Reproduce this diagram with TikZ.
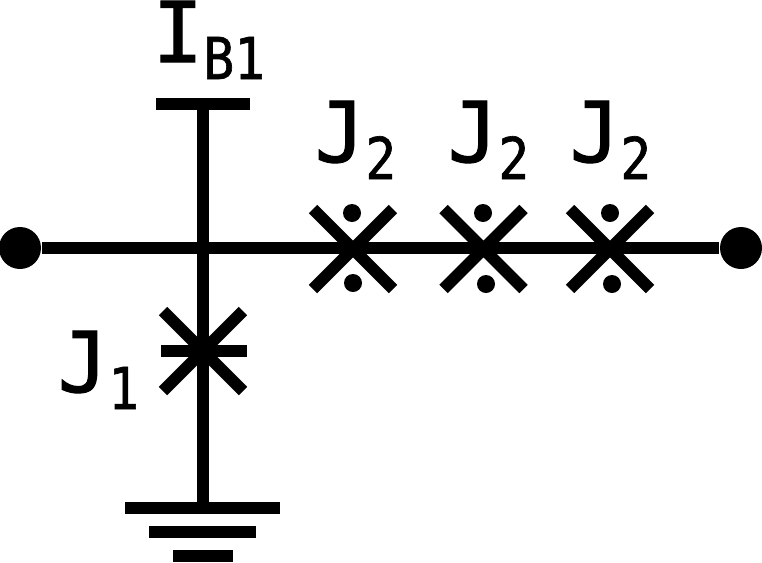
\documentclass[tikz,border=0pt]{standalone}
\usepackage{fontspec}
\setmainfont{DejaVu Sans Mono}[FakeBold=1.2]
\usetikzlibrary{shapes.misc, positioning}
\newcommand{\lsub}[1]{\raisebox{-0.17cm}{\scalebox{0.89}[1]{\fontsize{16.4pt}{20pt}\selectfont #1}}}
\tikzset{
  wire/.style={line width=0.12cm},
  terminal/.style={circle, fill=black, inner sep=0pt, minimum size=0.42cm},
  junction/.style={cross out, draw, line width=0.12cm, inner sep=0pt, minimum size=0.68cm},
  jdot/.style={circle, fill=black, inner sep=0pt, minimum size=0.18cm},
  lbl/.style={inner sep=0pt, font=\fontsize{23.9pt}{28pt}\selectfont},
}
\begin{document}
\begin{tikzpicture}
\useasboundingbox (0,0) rectangle (7.62,5.62);

\node[terminal] (left) at (0.20,3.14) {};
\node[terminal] (right) at (7.41,3.14) {};
\coordinate (tee) at (2.03,3.14);
\coordinate (top) at (2.03,4.58);
\coordinate (gnd) at (2.03,0.54);

\draw[wire] (left) -- (right);
\draw[wire] (top) -- (gnd);

% current bias bar
\coordinate (barl) at (1.56,4.58);
\coordinate (barr) at (2.50,4.58);
\draw[wire] (barl) -- (barr);

% ground
\coordinate (g1l) at (1.25,0.54);
\coordinate (g1r) at (2.80,0.54);
\coordinate (g2l) at (1.49,0.30);
\coordinate (g2r) at (2.56,0.30);
\coordinate (g3l) at (1.73,0.06);
\coordinate (g3r) at (2.33,0.06);
\draw[wire] (g1l) -- (g1r);
\draw[wire] (g2l) -- (g2r);
\draw[wire] (g3l) -- (g3r);

% junctions
\node[junction] (j1) at (2.03,2.11) {};
\coordinate (j1l) at (1.61,2.11);
\coordinate (j1r) at (2.47,2.11);
\draw[wire] (j1l) -- (j1r);
\node[junction] (j2a) at (3.53,3.13) {};
\node[junction] (j2b) at (4.835,3.13) {};
\node[junction] (j2c) at (6.10,3.13) {};

\node[jdot] (a1) at (3.52,3.49) {};
\node[jdot] (a2) at (3.53,2.79) {};
\node[jdot] (b1) at (4.83,3.49) {};
\node[jdot] (b2) at (4.86,2.78) {};
\node[jdot] (c1) at (6.10,3.49) {};
\node[jdot] (c2) at (6.12,2.78) {};

% labels
\node[lbl, anchor=base west] (ib) at (1.52,5.00) {I\lsub{B1}};
\node[lbl, anchor=base west] (l1) at (0.57,1.70) {J\lsub{1}};
\node[lbl, anchor=base west] (l2a) at (3.14,4.00) {J\lsub{2}};
\node[lbl, anchor=base west] (l2b) at (4.47,4.00) {J\lsub{2}};
\node[lbl, anchor=base west] (l2c) at (5.69,4.00) {J\lsub{2}};
\end{tikzpicture}
\end{document}
